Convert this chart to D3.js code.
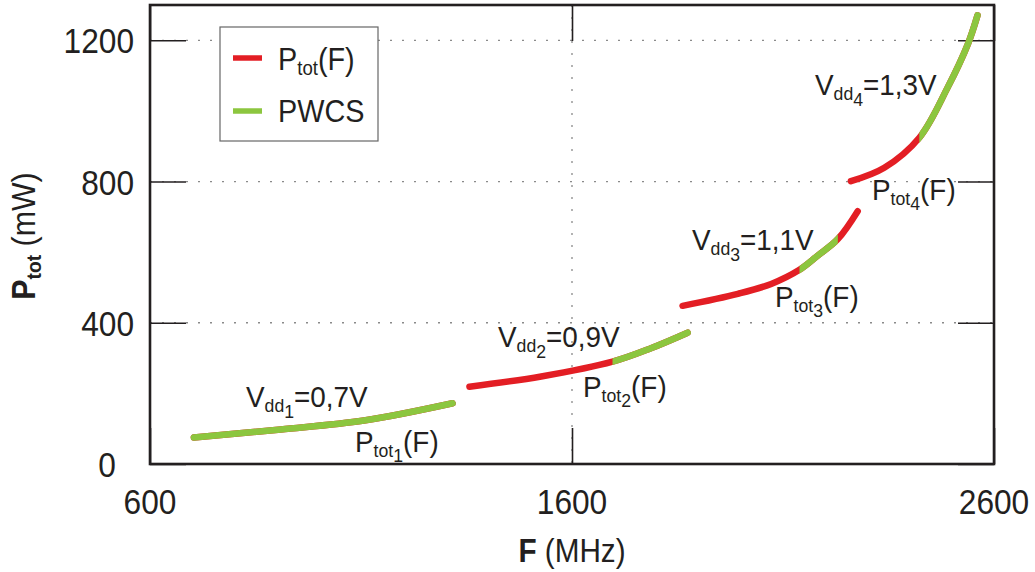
<!DOCTYPE html>
<html><head><meta charset="utf-8">
<script src="https://cdn.jsdelivr.net/npm/d3@7"></script>
<style>
body{margin:0;background:#fff;}
text{font-family:"Liberation Sans",Arial,Helvetica,sans-serif;fill:#231f20;}
</style></head>
<body><svg id="c" width="1035" height="572"></svg>
<script>
// ---- data ----
const xTicks = [600, 1600, 2600];
const yTicks = [0, 400, 800, 1200];
const seg1F = [704, 910, 1107, 1317];
const seg1P = [75, 98, 123, 172];
const seg1Green = [0, 3];
const seg2F = [1357, 1527, 1696, 1787, 1874];
const seg2P = [219, 248, 290, 328, 372];
const seg2Green = [2, 4];
const seg3F = [1862, 1993, 2072, 2139, 2182, 2230, 2277];
const seg3P = [448, 482, 510, 550, 590, 637, 716];
const seg3Green = [3, 5];
const seg4F = [2261, 2340, 2423, 2490, 2538, 2561];
const seg4P = [801, 839, 924, 1066, 1189, 1271];
const seg4Green = [2, 5];
const vddSubs = ["1", "2", "3", "4"];
const vddVals = ["=0,7V", "=0,9V", "=1,1V", "=1,3V"];
const legendLabels = ["P", "PWCS"];

const svg = d3.select("#c");
const L = 150, R = 994, T = 5, B = 464;
const x = d3.scaleLinear().domain([600, 2600]).range([L, R]);
const y = d3.scaleLinear().domain([0, 1300]).range([B, T]);
const RED = "#e31e24", GREEN = "#8cc63f";

// grid (dotted)
const g = svg.append("g");
g.selectAll("line.hg").data(yTicks.filter(d => d > 0)).enter().append("line")
  .attr("x1", L).attr("x2", R).attr("y1", d => y(d)).attr("y2", d => y(d))
  .attr("stroke", "#8a8a8a").attr("stroke-width", 1.3).attr("stroke-dasharray", "2,10");
g.selectAll("line.vg").data([1600]).enter().append("line")
  .attr("x1", d => x(d)).attr("x2", d => x(d)).attr("y1", T).attr("y2", B)
  .attr("stroke", "#8a8a8a").attr("stroke-width", 1.3).attr("stroke-dasharray", "2,10");

// axes with inward ticks
const TL = 36;
const axL = d3.axisLeft(y).tickValues(yTicks).tickSize(-TL).tickFormat("");
const axR = d3.axisRight(y).tickValues(yTicks).tickSize(-TL).tickFormat("");
const axB = d3.axisBottom(x).tickValues(xTicks).tickSize(-TL).tickFormat("");
const axT = d3.axisTop(x).tickValues(xTicks).tickSize(-TL).tickFormat("");
[[axL, `translate(${L},0)`], [axR, `translate(${R},0)`], [axB, `translate(0,${B})`], [axT, `translate(0,${T})`]]
  .forEach(([a, t]) => {
    const ga = svg.append("g").attr("transform", t).call(a);
    ga.select(".domain").remove();
    ga.selectAll(".tick line").attr("stroke", "#231f20").attr("stroke-width", 1.6);
  });
// frame
svg.append("rect").attr("x", L).attr("y", T).attr("width", R - L).attr("height", B - T)
  .attr("fill", "none").attr("stroke", "#231f20").attr("stroke-width", 2.6);

// tick labels (slightly condensed like the original)
svg.selectAll("text.yt").data(yTicks).enter().append("text")
  .attr("transform", d => `translate(${d === 0 ? 107 : 134},${y(d) + 13}) scale(0.88,1)`)
  .attr("text-anchor", d => d === 0 ? "middle" : "end")
  .attr("font-size", 36).text(d => d);
svg.selectAll("text.xt").data(xTicks).enter().append("text")
  .attr("transform", d => `translate(${x(d)},514) scale(0.88,1)`).attr("text-anchor", "middle")
  .attr("font-size", 36).text(d => d);

// axis titles
const xt = svg.append("text").attr("transform", "translate(572,562) scale(0.9,1)").attr("text-anchor", "middle").attr("font-size", 33);
xt.append("tspan").attr("font-weight", "bold").text("F");
xt.append("tspan").text(" (MHz)");
const yt = svg.append("text").attr("transform", "translate(35,236) rotate(-90) scale(0.92,1)").attr("text-anchor", "middle").attr("font-size", 33);
yt.append("tspan").attr("font-weight", "bold").text("P");
yt.append("tspan").attr("font-weight", "bold").attr("font-size", 21).attr("dy", 6).text("tot");
yt.append("tspan").attr("dy", -6).text(" (mW)");

// curves: red full segment, green = same path clipped to the PWCS range
const line = d3.line().x(d => x(d[0])).y(d => y(d[1])).curve(d3.curveCatmullRom.alpha(0.5));
const defs = svg.append("defs");
const segs = [[seg1F, seg1P, seg1Green], [seg2F, seg2P, seg2Green], [seg3F, seg3P, seg3Green], [seg4F, seg4P, seg4Green]];
segs.forEach(([F, P, gr], k) => {
  const pts = F.map((f, i) => [f, P[i]]);
  const d = line(pts);
  svg.append("path").attr("d", d).attr("fill", "none").attr("stroke", RED)
    .attr("stroke-width", 6.5).attr("stroke-linecap", "round");
  const x0 = x(F[gr[0]]) - (gr[0] === 0 ? 6 : 0);
  const x1 = x(F[gr[1]]) + (gr[1] === F.length - 1 ? 6 : 0);
  defs.append("clipPath").attr("id", "cg" + k).append("rect")
    .attr("x", x0).attr("y", 0).attr("width", x1 - x0).attr("height", 572);
  svg.append("path").attr("d", d).attr("fill", "none").attr("stroke", GREEN)
    .attr("stroke-width", 6.5).attr("stroke-linecap", "round").attr("clip-path", `url(#cg${k})`);
});

// annotations
const vddPos = [[246, 407], [498, 347], [692, 250], [815, 95]];
const ptotPos = [[355, 452], [583, 397], [775, 307], [872, 200]];
function vddLabel(px, py, sub, val) {
  const t = svg.append("text").attr("transform", `translate(${px},${py}) scale(0.93,1)`).attr("font-size", 30);
  t.append("tspan").text("V");
  t.append("tspan").attr("font-size", 19).attr("dy", 5).text("dd");
  t.append("tspan").attr("font-size", 19).attr("dy", 6).text(sub);
  t.append("tspan").attr("dy", -11).text(val);
}
function ptotLabel(px, py, sub) {
  const t = svg.append("text").attr("transform", `translate(${px},${py}) scale(0.93,1)`).attr("font-size", 30);
  t.append("tspan").text("P");
  t.append("tspan").attr("font-size", 19).attr("dy", 5).text("tot");
  if (sub) t.append("tspan").attr("font-size", 19).attr("dy", 5).text(sub);
  t.append("tspan").attr("dy", sub ? -10 : -5).text("(F)");
}
vddSubs.forEach((s, i) => {
  vddLabel(vddPos[i][0], vddPos[i][1], s, vddVals[i]);
  ptotLabel(ptotPos[i][0], ptotPos[i][1], s);
});

// legend
svg.append("rect").attr("x", 220).attr("y", 27).attr("width", 158).attr("height", 114)
  .attr("fill", "#fff").attr("stroke", "#666").attr("stroke-width", 1.2);
[[RED, 58], [GREEN, 111]].forEach(([c, yy]) => {
  svg.append("line").attr("x1", 233).attr("x2", 262).attr("y1", yy).attr("y2", yy)
    .attr("stroke", c).attr("stroke-width", 5.5);
});
const lg1 = svg.append("text").attr("transform", "translate(278,70) scale(0.93,1)").attr("font-size", 31);
lg1.append("tspan").text(legendLabels[0]);
lg1.append("tspan").attr("font-size", 20).attr("dy", 5).text("tot");
lg1.append("tspan").attr("dy", -5).text("(F)");
svg.append("text").attr("transform", "translate(278,122) scale(0.93,1)").attr("font-size", 31).text(legendLabels[1]);
</script></body></html>
